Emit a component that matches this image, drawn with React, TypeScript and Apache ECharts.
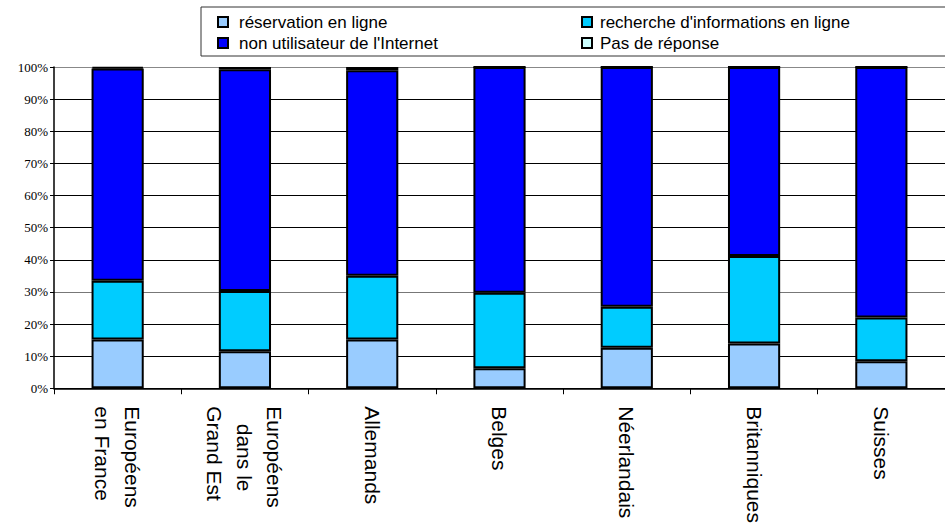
import React, { useEffect, useRef } from "react";
import * as echarts from "echarts";

const categories = [
  "Européens\nen France",
  "Européens\n   dans le\nGrand Est",
  "Allemands",
  "Belges",
  "Néerlandais",
  "Britanniques",
  "Suisses",
];
const seriesNames = [
  "réservation en ligne",
  "recherche d'informations en ligne",
  "non utilisateur de l'Internet",
  "Pas de réponse",
];
const reservation = [15.2, 11.5, 15.2, 6.2, 12.6, 13.9, 8.4];
const recherche = [18.3, 18.8, 19.8, 23.5, 12.8, 27.3, 13.6];
const nonUtilisateur = [66.0, 69.0, 64.0, 70.3, 74.6, 58.8, 78.0];
const pasDeReponse = [0.5, 0.7, 1.0, 0, 0, 0, 0];
const colors = ["#99CCFF", "#00CCFF", "#0000FF", "#CCFFFF"];

export default function App() {
  const ref = useRef<HTMLDivElement>(null);
  useEffect(() => {
    if (!ref.current) return;
    const chart = echarts.init(ref.current, null, { renderer: "svg" });
    const values = [reservation, recherche, nonUtilisateur, pasDeReponse];
    const legendText = {
      fontFamily: "Liberation Sans, Arial, sans-serif",
      fontSize: 17,
      color: "#000",
      lineHeight: 20,
      padding: [0, 0, 0, 6],
    };
    const splitColors = ["#000", "#000", "#000", "#777", "#000", "#000", "#000", "#000", "#000", "#000", "#888"];
    chart.setOption({
      animation: false,
      backgroundColor: "#fff",
      graphic: [
        {
          type: "rect",
          shape: { x: 201, y: 7, width: 760, height: 49 },
          style: { fill: "none", stroke: "#333", lineWidth: 1 },
          silent: true,
        },
      ],
      legend: [
        {
          data: [seriesNames[0], seriesNames[2]],
          orient: "vertical",
          left: 217,
          top: 12,
          itemWidth: 10,
          itemHeight: 10,
          itemGap: 1,
          icon: "rect",
          textStyle: legendText,
          padding: 0,
        },
        {
          data: [seriesNames[1], seriesNames[3]],
          orient: "vertical",
          left: 581,
          top: 12,
          itemWidth: 10,
          itemHeight: 10,
          itemGap: 1,
          icon: "rect",
          textStyle: { ...legendText, padding: [0, 0, 0, 3] },
          padding: 0,
        },
      ],
      grid: { left: 54, top: 67, width: 913, height: 323, containLabel: false },
      xAxis: {
        type: "category",
        data: categories,
        axisLine: { show: true, lineStyle: { color: "#000", width: 1.5 } },
        axisTick: { show: true, length: 6, lineStyle: { color: "#000" }, alignWithLabel: false },
        axisLabel: {
          rotate: -90,
          margin: 18,
          interval: 0,
          fontFamily: "Liberation Sans, Arial, sans-serif",
          fontSize: 21,
          lineHeight: 30,
          color: "#000",
        },
        splitLine: { show: false },
      },
      yAxis: {
        type: "value",
        min: 0,
        max: 100,
        interval: 10,
        axisLine: { show: true, lineStyle: { color: "#000", width: 1.5 } },
        axisTick: { show: true, length: 4, lineStyle: { color: "#000" } },
        axisLabel: {
          formatter: "{value}%",
          margin: 6,
          fontFamily: "Liberation Serif, Times New Roman, serif",
          fontSize: 13,
          color: "#000",
        },
        splitLine: { show: true, lineStyle: { color: splitColors, width: 1 } },
      },
      series: values.map((v, i) => ({
        name: seriesNames[i],
        type: "bar",
        stack: "total",
        data: v,
        barWidth: "41%",
        itemStyle: { color: colors[i], borderColor: "#000", borderWidth: 2 },
        emphasis: { disabled: true },
      })),
    });
    return () => chart.dispose();
  }, []);
  return (
    <div
      ref={ref}
      style={{ position: "fixed", left: 0, top: 0, width: 945, height: 526 }}
    />
  );
}
